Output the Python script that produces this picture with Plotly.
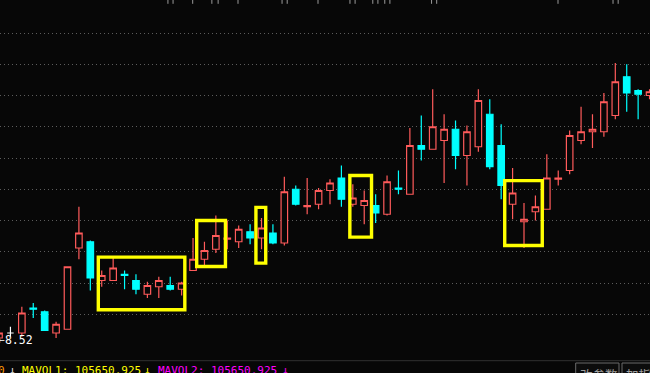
import plotly.graph_objects as go

# ---- data ----
day = list(range(58))  # session index, day 0 is the partly hidden first bar
open_ = [8.56, 8.60, 8.60, 8.80, 8.77, 8.60, 8.63, 9.28, 9.33, 9.02,
         9.02, 9.07, 9.02, 8.91, 8.97, 8.98, 8.95, 9.10, 9.19, 9.27,
         9.35, 9.33, 9.41, 9.36, 9.40, 9.32, 9.75, 9.61, 9.63, 9.74,
         9.84, 9.63, 9.62, 9.62, 9.55, 9.76, 9.71, 10.10, 10.07, 10.14,
         10.23, 10.02, 10.09, 10.35, 10.10, 9.63, 9.49, 9.57, 9.59, 9.83,
         9.90, 10.14, 10.21, 10.21, 10.34, 10.65, 10.54, 10.50]
high = [8.62, 8.65, 8.81, 8.84, 8.78, 8.69, 9.13, 9.61, 9.34, 9.10,
        9.20, 9.10, 9.07, 9.01, 9.05, 9.05, 9.01, 9.36, 9.33, 9.54,
        9.50, 9.46, 9.47, 9.52, 9.47, 9.85, 9.78, 9.84, 9.76, 9.83,
        9.94, 9.79, 9.74, 9.71, 9.86, 9.90, 10.24, 10.34, 10.55, 10.35,
        10.30, 10.26, 10.55, 10.47, 10.27, 9.92, 9.64, 9.70, 10.03, 9.90,
        10.22, 10.41, 10.35, 10.52, 10.76, 10.75, 10.55, 10.55]
low = [8.52, 8.57, 8.57, 8.72, 8.62, 8.56, 8.63, 9.19, 8.94, 8.97,
       9.02, 8.95, 8.91, 8.88, 8.88, 8.94, 8.90, 9.10, 9.14, 9.24,
       9.27, 9.28, 9.31, 9.27, 9.31, 9.30, 9.62, 9.55, 9.59, 9.63,
       9.61, 9.61, 9.47, 9.48, 9.54, 9.71, 9.71, 9.98, 10.07, 9.80,
       9.91, 9.78, 10.05, 9.91, 9.67, 9.51, 9.28, 9.50, 9.59, 9.78,
       9.87, 10.11, 10.08, 10.17, 10.31, 10.37, 10.31, 10.47]
close = [8.60, 8.60, 8.76, 8.79, 8.62, 8.67, 9.13, 9.40, 9.04, 9.06,
         9.12, 9.06, 8.95, 8.98, 9.02, 8.95, 9.00, 9.19, 9.26, 9.38,
         9.36, 9.43, 9.36, 9.44, 9.32, 9.73, 9.63, 9.62, 9.74, 9.80,
         9.67, 9.68, 9.66, 9.56, 9.81, 9.75, 10.10, 10.07, 10.25, 10.23,
         10.02, 10.21, 10.46, 9.93, 9.78, 9.72, 9.51, 9.61, 9.84, 9.84,
         10.18, 10.21, 10.23, 10.45, 10.61, 10.52, 10.51, 10.53]
low_label = "←8.52"

# highlighted zones (yellow frames)
hl_x0 = [8.70, 17.32, 22.51, 30.74, 44.31]
hl_x1 = [16.28, 19.84, 23.37, 32.64, 47.60]
hl_top = [9.207, 9.500, 9.605, 9.860, 9.819]
hl_bot = [8.786, 9.132, 9.159, 9.367, 9.300]

# small grey marks along the top edge
top_marks = [14.8, 15.25, 16.97, 18.65, 19.2, 20.94, 24.8, 25.25, 27.95, 30.75,
             31.2, 32.75, 33.2, 33.8, 34.25, 37.9, 38.35, 48.98, 53.8, 54.25]
top_mark_price = 11.256

grid_levels = [8.75, 9.00, 9.25, 9.50, 9.75, 10.00, 10.25, 10.50, 10.75, 11.00]

vol_texts = ["0", "↓", "MAVOL1: 105650.925", "↓", "MAVOL2: 105650.925", "↓"]
vol_colors = ["#ff9900", "#e8e8e8", "#ffff00", "#ffff00", "#ff00ff", "#ff00ff"]
vol_px = [-4, 7, 20, 142, 156, 280]

buttons = ["改参数", "加指"]
btn_x0 = [575.7, 622.0]
btn_x1 = [619.0, 656.0]

# ---- figure ----
W, H = 650, 373
BG = "#070707"
RED = "#ff5b5b"
CYAN = "#00ffff"

doji = [i for i in day if open_[i] == close[i]]
main = [i for i in day if open_[i] != close[i]]

fig = go.Figure()
fig.add_trace(go.Candlestick(
    x=[day[i] for i in main],
    open=[open_[i] for i in main], high=[high[i] for i in main],
    low=[low[i] for i in main], close=[close[i] for i in main],
    increasing=dict(line=dict(color=RED, width=1.2), fillcolor=BG),
    decreasing=dict(line=dict(color=CYAN, width=1.2), fillcolor=CYAN),
    whiskerwidth=0, hoverinfo="skip", showlegend=False,
))
fig.add_trace(go.Candlestick(
    x=[day[i] for i in doji],
    open=[open_[i] for i in doji], high=[high[i] for i in doji],
    low=[low[i] for i in doji], close=[close[i] for i in doji],
    increasing=dict(line=dict(color="#ffffff", width=1.2), fillcolor="#ffffff"),
    decreasing=dict(line=dict(color="#ffffff", width=1.2), fillcolor="#ffffff"),
    whiskerwidth=0, hoverinfo="skip", showlegend=False,
))
fig.add_trace(go.Scatter(
    x=top_marks, y=[top_mark_price] * len(top_marks), mode="markers",
    marker=dict(symbol="line-ns", size=4, line=dict(color="#9a9a9a", width=1)),
    hoverinfo="skip", showlegend=False,
))

shapes = []
for x0, x1, yt, yb in zip(hl_x0, hl_x1, hl_top, hl_bot):
    shapes.append(dict(type="rect", xref="x", yref="y", x0=x0, x1=x1, y0=yb, y1=yt,
                       line=dict(color="#ffff00", width=3.4), fillcolor="rgba(0,0,0,0)",
                       layer="above"))


def px(xp):
    return xp / W


def py(yp):
    return 1 - yp / H


shapes.append(dict(type="line", xref="paper", yref="paper", x0=0, x1=1,
                   y0=py(360.7), y1=py(360.7), line=dict(color="#303030", width=1)))
for x0, x1 in zip(btn_x0, btn_x1):
    shapes.append(dict(type="rect", xref="paper", yref="paper", x0=px(x0), x1=px(x1),
                       y0=py(363), y1=py(380), line=dict(color="#6a6a6a", width=1),
                       fillcolor="#0c0c0c"))

annotations = [dict(x=px(-4.5), y=py(340), xref="paper", yref="paper", text=low_label,
                    showarrow=False, xanchor="left", yanchor="middle",
                    font=dict(family="DejaVu Sans Mono", size=11.5, color="#ffffff"))]
for t, c, xp in zip(vol_texts, vol_colors, vol_px):
    annotations.append(dict(x=px(xp), y=py(362.0), xref="paper", yref="paper", text=t,
                            showarrow=False, xanchor="left", yanchor="top",
                            font=dict(family="DejaVu Sans Mono", size=11, color=c)))
for t, x0, x1 in zip(buttons, btn_x0, btn_x1):
    annotations.append(dict(x=px(x0 + 2), y=py(362.5), xref="paper", yref="paper", text=t,
                            showarrow=False, xanchor="left", yanchor="top",
                            font=dict(family="Noto Sans CJK SC", size=12.5, color="#a0a0a0")))

fig.update_layout(
    width=W, height=H, margin=dict(l=0, r=0, t=0, b=0),
    paper_bgcolor=BG, plot_bgcolor=BG, showlegend=False,
    boxgap=0.43, boxgroupgap=0,
    shapes=shapes, annotations=annotations,
    xaxis=dict(range=[0.086, 57.04], showgrid=False, zeroline=False, showticklabels=False,
               ticks="", rangeslider=dict(visible=False), fixedrange=True),
    yaxis=dict(range=[8.280, 11.264], tickvals=grid_levels, showgrid=True,
               gridcolor="#5c5c5c", griddash="1px,3px", gridwidth=1, zeroline=False,
               showticklabels=False, ticks="", fixedrange=True),
)
fig.write_html("out.html")
